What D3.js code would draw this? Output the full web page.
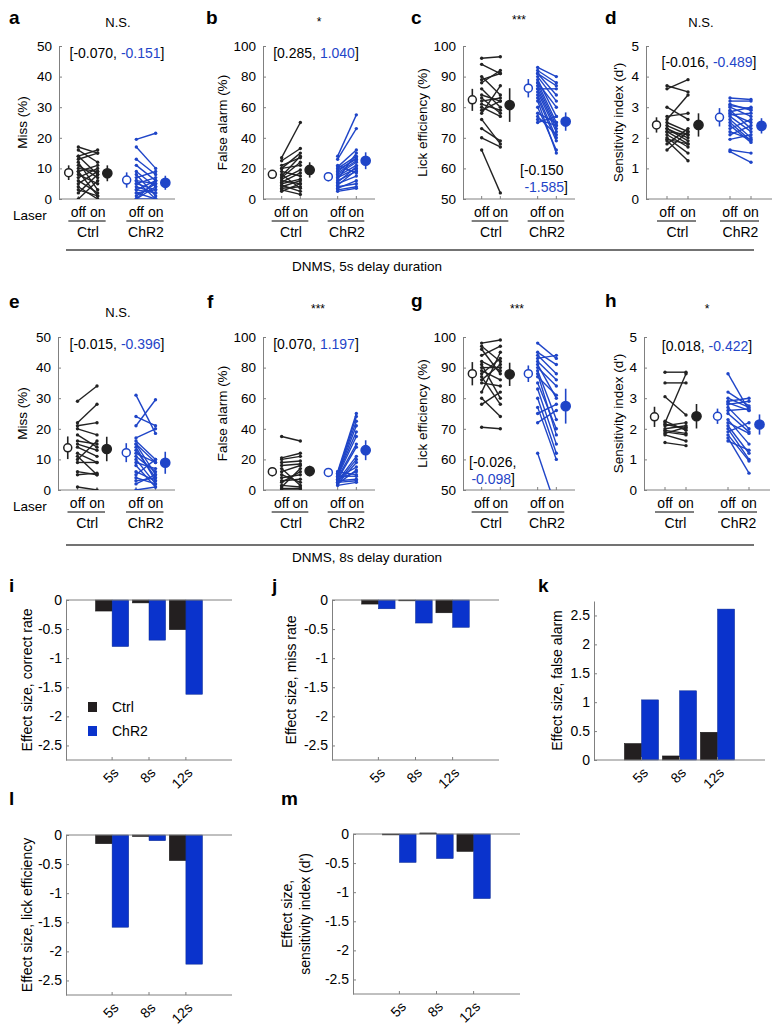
<!DOCTYPE html>
<html><head><meta charset="utf-8">
<script src="https://cdn.jsdelivr.net/npm/d3@7"></script>
<style>
body{margin:0;background:#fff}
text{font-family:'Liberation Sans',Arial,Helvetica,sans-serif}
</style>
</head><body>
<svg id="fig" width="778" height="1026"></svg>
<script>
// ---------------- DATA ----------------
// Panel a: Miss (%), 5s
const aCtrlOff = [17, 16, 14, 14, 12, 10, 9, 9, 8, 7, 6, 5, 4, 3, 2, 0, 11, 13];
const aCtrlOn  = [15, 12, 16, 8, 3, 9, 11, 1, 5, 10, 2, 9, 0, 1, 8, 6, 7, 15];
const aChrOff  = [19.5, 17, 13, 11, 9, 7, 6, 6, 5, 4, 3, 2, 1, 0, 0, 8, 5, 3, 2, 0];
const aChrOn   = [21.5, 10, 8, 6, 4, 9, 5, 0, 7, 2, 6, 3, 5, 0, 4, 1, 3, 2, 0, 6];
const aMeans = [8.6, 8.4, 6.2, 5.3], aSems = [2.4, 2.6, 2.5, 2.3];
// Panel b: False alarm (%), 5s
const bCtrlOff = [27, 25, 22, 20, 18, 15, 14, 12, 10, 9, 8, 7, 6, 5, 20, 16, 11, 13];
const bCtrlOn  = [50, 33, 27, 30, 15, 28, 24, 10, 13, 5, 12, 8, 3, 10, 22, 7, 17, 19];
const bChrOff  = [28, 26, 21, 20, 19, 17, 15, 14, 12, 10, 8, 7, 6, 5, 13, 18, 11, 9, 16, 22];
const bChrOn   = [55, 46, 32, 28, 26, 25, 22, 20, 18, 15, 10, 12, 8, 7, 30, 27, 21, 19, 24, 17];
const bMeans = [16.1, 19, 14.6, 25], bSems = [2.7, 5, 3, 5.5];
// Panel c: Lick efficiency (%), 5s
const cCtrlOff = [96, 94, 89, 88, 86, 84, 83, 82, 80, 79, 78, 76, 73, 70, 66, 90, 81];
const cCtrlOn  = [96.5, 91, 91, 92, 80, 82, 78, 83, 77, 82, 87, 68, 69, 67, 52, 84, 79];
const cChrOff  = [93, 92, 91, 90, 89, 88, 87, 86, 85, 84, 83, 82, 80, 78, 76, 75, 88, 86, 91, 77];
const cChrOn   = [90, 88, 84, 82, 77, 75, 74, 73, 72, 70, 69, 65, 66, 75, 74, 77, 80, 86, 87, 71];
const cMeans = [82.4, 80.7, 86.2, 75.3], cSems = [3.6, 5.5, 3, 3];
// Panel d: Sensitivity index (d'), 5s
const dCtrlOff = [3.7, 3.6, 3.0, 2.7, 2.5, 2.4, 2.3, 2.2, 2.1, 2.0, 1.9, 1.8, 1.6, 2.3, 2.6, 2.2, 1.95];
const dCtrlOn  = [3.5, 3.9, 2.6, 2.8, 2.2, 2.1, 2.0, 1.8, 1.7, 1.5, 1.25, 2.3, 2.2, 1.9, 3.4, 2.1, 1.8];
const dChrOff  = [3.3, 3.2, 3.1, 3.0, 2.9, 2.8, 2.7, 2.6, 2.5, 2.4, 2.3, 2.1, 1.95, 1.6, 1.55, 3.05, 2.75, 2.85, 2.2];
const dChrOn   = [3.25, 3.2, 2.9, 2.7, 2.3, 2.5, 2.2, 2.0, 1.9, 1.85, 2.6, 2.4, 2.1, 1.5, 1.2, 2.95, 2.8, 3.0, 1.95];
const dMeans = [2.42, 2.42, 2.67, 2.39], dSems = [0.25, 0.38, 0.3, 0.25];
// Panel e: Miss (%), 8s
const eCtrlOff = [29, 22, 21, 20, 16, 15, 14, 12, 11, 9, 6, 5, 1, 18, 10];
const eCtrlOn  = [34, 28, 22, 18, 15, 13, 11, 9, 5, 9, 5, 5.5, 0, 14, 16];
const eChrOff  = [31, 24, 21, 17, 16, 15, 14, 13, 12, 11, 10, 9, 8, 6, 5, 4, 3, 2, 0, 15];
const eChrOn   = [18.5, 21, 29.5, 20, 10, 5, 3, 4, 9, 6, 2, 7, 1, 3, 10, 2, 4, 5, 1, 9];
const eMeans = [13.8, 13.4, 12.2, 8.9], eSems = [3.7, 4, 3.1, 3.6];
// Panel f: False alarm (%), 8s
const fCtrlOff = [35, 21, 20, 18, 16, 14, 12, 10, 8, 6, 5, 3, 2, 1, 0];
const fCtrlOn  = [32, 24, 22, 19, 17, 3, 16, 5, 10, 7, 12, 2, 14, 1, 0];
const fChrOff  = [12, 11, 11, 10, 10, 9, 8, 7, 6, 5, 4, 4, 12, 9, 6, 5, 3, 7, 8];
const fChrOn   = [50, 48, 45, 42, 38, 35, 30, 28, 22, 20, 18, 13, 10, 9, 7, 6, 5, 12, 15];
const fMeans = [12, 12.4, 11.5, 26], fSems = [3, 3.4, 1, 6.5];
// Panel g: Lick efficiency (%), 8s
const gCtrlOff = [98, 97, 96, 94, 91, 90, 89, 87, 86, 85, 82, 80, 78, 70.5, 92, 88];
const gCtrlOn  = [99, 92, 88, 97, 80, 90, 86, 78, 91, 84, 95, 74, 82, 70, 89, 93];
const gChrOff  = [98, 95, 93, 92, 91, 90, 89, 88, 85, 83, 80, 77, 75, 72, 62, 94, 87];
const gChrOn   = [93, 91, 94, 86, 80, 84, 73, 68, 70, 65, 62, 60, 78, 76, 44, 88, 81];
const gMeans = [88, 87.8, 88, 77.4], gSems = [3.8, 3.8, 2.7, 5.7];
// Panel h: Sensitivity index (d'), 8s
const hCtrlOff = [3.85, 3.5, 3.05, 2.2, 2.15, 2.0, 1.95, 1.9, 1.8, 1.55, 2.1, 2.25, 1.85];
const hCtrlOn  = [3.85, 3.5, 2.45, 3.8, 2.0, 2.1, 1.85, 1.8, 1.6, 1.45, 2.2, 1.95, 2.05];
const hChrOff  = [3.8, 3.2, 2.9, 2.85, 2.8, 2.7, 2.5, 2.3, 2.1, 2.0, 1.9, 1.8, 1.7, 1.6, 2.6, 2.2, 3.0];
const hChrOn   = [2.6, 2.75, 3.0, 2.6, 2.9, 2.0, 1.9, 1.5, 1.2, 1.0, 2.2, 0.95, 0.55, 1.3, 2.65, 1.85, 2.7];
const hMeans = [2.39, 2.41, 2.41, 2.14], hSems = [0.33, 0.4, 0.25, 0.33];

const sigLabels = ['N.S.', '*', '***', 'N.S.', 'N.S.', '***', '***', '*'];
const groupLabels = ['Ctrl', 'ChR2'];
const laserLabels = ['off', 'on'];

// Effect sizes (bar charts i-m)
const delays = ['5s', '8s', '12s'];
const esCorrectCtrl = [-0.19, -0.05, -0.51], esCorrectChR2 = [-0.80, -0.69, -1.62];
const esMissCtrl    = [-0.070, -0.015, -0.22], esMissChR2 = [-0.151, -0.396, -0.47];
const esFACtrl      = [0.285, 0.070, 0.48], esFAChR2 = [1.040, 1.197, 2.61];
const esLickCtrl    = [-0.150, -0.026, -0.44], esLickChR2 = [-1.585, -0.098, -2.22];
const esDpCtrl      = [-0.016, 0.018, -0.30], esDpChR2 = [-0.489, -0.422, -1.11];

// ---------------- STYLE ----------------
const BLACK = '#222', BLUE = '#1f45c8', BAR_BLUE = '#0a33cc', BAR_BLACK = '#231f20', AXIS = '#808080';
const svg = d3.select('#fig');
const fmt = v => v.toFixed(3);

function styleAxis(g, fs) {
  g.select('.domain').attr('stroke', AXIS);
  g.selectAll('.tick line').attr('stroke', AXIS);
  g.selectAll('.tick text').attr('fill', '#000').style('font-size', fs + 'px')
   .style('font-family', "'Liberation Sans',Arial,sans-serif");
}
function txt(x, y, s, o = {}) {
  const t = svg.append('text').attr('x', x).attr('y', y).text(s)
    .style('font-size', (o.fs || 13) + 'px').attr('fill', o.fill || '#000')
    .attr('text-anchor', o.anchor || 'start');
  if (o.bold) t.style('font-weight', 'bold');
  if (o.rot) t.attr('transform', `rotate(-90,${x},${y})`);
  return t;
}

// ---------------- PAIR PANELS ----------------
let clipId = 0;
function pairPanel(p) {
  const x = d3.scaleLinear().domain([0, 6]).range([p.x0, p.x1]);
  const y = d3.scaleLinear().domain(p.domain).range([p.yBot, p.yTop]);
  const g = svg.append('g');
  const id = 'clip' + (clipId++);
  svg.append('clipPath').attr('id', id).append('rect')
    .attr('x', p.x0).attr('y', p.yTop - 5).attr('width', p.x1 - p.x0).attr('height', p.yBot - p.yTop + 5);

  const ax = g.append('g').attr('transform', `translate(${p.x0},0)`)
    .call(d3.axisLeft(y).tickValues(p.ticks).tickSizeInner(-3).tickSizeOuter(0).tickPadding(7).tickFormat(d => d));
  styleAxis(ax, 13.5);
  g.append('line').attr('x1', p.x0).attr('x2', p.x1).attr('y1', p.yBot).attr('y2', p.yBot).attr('stroke', AXIS);
  [1, 2, 4, 5].forEach(v => g.append('line').attr('x1', x(v)).attr('x2', x(v))
    .attr('y1', p.yBot).attr('y2', p.yBot - 3).attr('stroke', AXIS));

  const lg = g.append('g').attr('clip-path', `url(#${id})`);
  const groups = [[p.ctrlOff, p.ctrlOn, 1, BLACK], [p.chrOff, p.chrOn, 4, BLUE]];
  groups.forEach(([off, on, xo, col]) => {
    off.forEach((v, i) => {
      lg.append('line').attr('x1', x(xo)).attr('x2', x(xo + 1)).attr('y1', y(v)).attr('y2', y(on[i]))
        .attr('stroke', col).attr('stroke-width', 1.4);
      lg.append('circle').attr('cx', x(xo)).attr('cy', y(v)).attr('r', 1.7).attr('fill', col);
      lg.append('circle').attr('cx', x(xo + 1)).attr('cy', y(on[i])).attr('r', 1.7).attr('fill', col);
    });
  });
  // means
  const mpos = [0.5, 2.5, 3.5, 5.5], mcol = [BLACK, BLACK, BLUE, BLUE], mopen = [true, false, true, false];
  p.means.forEach((m, i) => {
    g.append('line').attr('x1', x(mpos[i])).attr('x2', x(mpos[i]))
      .attr('y1', y(m - p.sems[i])).attr('y2', y(m + p.sems[i])).attr('stroke', mcol[i]).attr('stroke-width', 1.6);
    g.append('circle').attr('cx', x(mpos[i])).attr('cy', y(m)).attr('r', mopen[i] ? 4 : 4.6)
      .attr('fill', mopen[i] ? '#fff' : mcol[i]).attr('stroke', mcol[i]).attr('stroke-width', 1.5);
  });
  // x labels
  const yb = p.yBot;
  [[1, 2], [4, 5]].forEach(([o1, o2], gi) => {
    txt(x(o1), yb + 18, laserLabels[0], { anchor: 'middle', fs: 14 });
    txt(x(o2), yb + 18, laserLabels[1], { anchor: 'middle', fs: 14 });
    g.append('line').attr('x1', x(o1) - 10).attr('x2', x(o2) + 8).attr('y1', yb + 22).attr('y2', yb + 22)
      .attr('stroke', '#000').attr('stroke-width', 1);
    txt((x(o1) + x(o2)) / 2, yb + 38, groupLabels[gi], { anchor: 'middle', fs: 14 });
  });
  if (p.laser) txt(13, yb + 21, 'Laser', { fs: 13.5 });
  // labels
  txt(p.labX, (p.yTop + p.yBot) / 2, p.ylabel, { anchor: 'middle', fs: 13.5, rot: true }).attr('dy', '0.35em');
  txt(p.letX, p.letY, p.letter, { fs: 19, bold: true });
  txt(p.titX, p.titY, p.title, { anchor: 'middle', fs: p.title.includes('*') ? 12 : 13 });
  // effect-size annotation
  const a = p.ann;
  if (a.two) {
    const t1 = txt(a.x, a.y, '', { anchor: a.anchor, fs: 14 });
    t1.append('tspan').text('[' + fmt(a.v[0]) + (a.comma ? ',' : ''));
    const t2 = txt(a.x2, a.y + 17, '', { anchor: a.anchor2, fs: 14 });
    t2.append('tspan').attr('fill', BLUE).text(fmt(a.v[1]));
    t2.append('tspan').text(']');
  } else {
    const t = txt(a.x, a.y, '', { anchor: 'middle', fs: 14 });
    t.append('tspan').text('[' + fmt(a.v[0]) + ', ');
    t.append('tspan').attr('fill', BLUE).text(fmt(a.v[1]));
    t.append('tspan').text(']');
  }
}

const Y1T = 46, Y1B = 199, Y2T = 337, Y2B = 490;
const pairs = [
  { letter: 'a', letX: 9, letY: 24, x0: 59, x1: 175, yTop: Y1T, yBot: Y1B, domain: [0, 50], ticks: [0, 10, 20, 30, 40, 50],
    ctrlOff: aCtrlOff, ctrlOn: aCtrlOn, chrOff: aChrOff, chrOn: aChrOn, means: aMeans, sems: aSems, ylabel: 'Miss (%)', labX: 22,
    title: sigLabels[0], titX: 118, titY: 27, laser: true, ann: { v: [esMissCtrl[0], esMissChR2[0]], x: 117, y: 58 } },
  { letter: 'b', letX: 206, letY: 24, x0: 263, x1: 375, yTop: Y1T, yBot: Y1B, domain: [0, 100], ticks: [0, 20, 40, 60, 80, 100],
    ctrlOff: bCtrlOff, ctrlOn: bCtrlOn, chrOff: bChrOff, chrOn: bChrOn, means: bMeans, sems: bSems, ylabel: 'False alarm (%)', labX: 222,
    title: sigLabels[1], titX: 319, titY: 26, ann: { v: [esFACtrl[0], esFAChR2[0]], x: 316, y: 58 } },
  { letter: 'c', letX: 411, letY: 24, x0: 463, x1: 575, yTop: Y1T, yBot: Y1B, domain: [50, 100], ticks: [50, 60, 70, 80, 90, 100],
    ctrlOff: cCtrlOff, ctrlOn: cCtrlOn, chrOff: cChrOff, chrOn: cChrOn, means: cMeans, sems: cSems, ylabel: 'Lick efficiency (%)', labX: 422,
    title: sigLabels[2], titX: 519, titY: 24,
    ann: { two: true, v: [esLickCtrl[0], esLickChR2[0]], x: 520, y: 175, anchor: 'start', x2: 568, anchor2: 'end', comma: false } },
  { letter: 'd', letX: 605, letY: 24, x0: 646, x1: 772, yTop: Y1T, yBot: Y1B, domain: [0, 5], ticks: [0, 1, 2, 3, 4, 5],
    ctrlOff: dCtrlOff, ctrlOn: dCtrlOn, chrOff: dChrOff, chrOn: dChrOn, means: dMeans, sems: dSems, ylabel: "Sensitivity index (d')", labX: 618,
    title: sigLabels[3], titX: 701, titY: 27, ann: { v: [esDpCtrl[0], esDpChR2[0]], x: 709, y: 67 } },
  { letter: 'e', letX: 9, letY: 308, x0: 58, x1: 175, yTop: Y2T, yBot: Y2B, domain: [0, 50], ticks: [0, 10, 20, 30, 40, 50],
    ctrlOff: eCtrlOff, ctrlOn: eCtrlOn, chrOff: eChrOff, chrOn: eChrOn, means: eMeans, sems: eSems, ylabel: 'Miss (%)', labX: 22,
    title: sigLabels[4], titX: 118, titY: 317, laser: true, ann: { v: [esMissCtrl[1], esMissChR2[1]], x: 117, y: 349 } },
  { letter: 'f', letX: 207, letY: 308, x0: 263, x1: 375, yTop: Y2T, yBot: Y2B, domain: [0, 100], ticks: [0, 20, 40, 60, 80, 100],
    ctrlOff: fCtrlOff, ctrlOn: fCtrlOn, chrOff: fChrOff, chrOn: fChrOn, means: fMeans, sems: fSems, ylabel: 'False alarm (%)', labX: 222,
    title: sigLabels[5], titX: 318, titY: 313, ann: { v: [esFACtrl[1], esFAChR2[1]], x: 316, y: 349 } },
  { letter: 'g', letX: 411, letY: 307, x0: 463, x1: 575, yTop: Y2T, yBot: Y2B, domain: [50, 100], ticks: [50, 60, 70, 80, 90, 100],
    ctrlOff: gCtrlOff, ctrlOn: gCtrlOn, chrOff: gChrOff, chrOn: gChrOn, means: gMeans, sems: gSems, ylabel: 'Lick efficiency (%)', labX: 422,
    title: sigLabels[6], titX: 517, titY: 313,
    ann: { two: true, v: [esLickCtrl[1], esLickChR2[1]], x: 469, y: 467, anchor: 'start', x2: 515, anchor2: 'end', comma: true } },
  { letter: 'h', letX: 605, letY: 307, x0: 644, x1: 770, yTop: Y2T, yBot: Y2B, domain: [0, 5], ticks: [0, 1, 2, 3, 4, 5],
    ctrlOff: hCtrlOff, ctrlOn: hCtrlOn, chrOff: hChrOff, chrOn: hChrOn, means: hMeans, sems: hSems, ylabel: "Sensitivity index (d')", labX: 618,
    title: sigLabels[7], titX: 707, titY: 313, ann: { v: [esDpCtrl[1], esDpChR2[1]], x: 707, y: 351 } },
];
pairs.forEach(pairPanel);

// separators
[[250, 'DNMS, 5s delay duration', 271], [545, 'DNMS, 8s delay duration', 562]].forEach(([yy, s, ty]) => {
  svg.append('line').attr('x1', 66).attr('x2', 754).attr('y1', yy).attr('y2', yy).attr('stroke', '#444').attr('stroke-width', 1.3);
  txt(367, ty, s, { anchor: 'middle', fs: 13.5 });
});

// ---------------- BAR PANELS ----------------
function barPanel(p) {
  const x = d3.scaleLinear().domain([-0.25, 4.25]).range([p.x0, p.x1]);
  const y = d3.scaleLinear().domain(p.domain).range([p.yBot, p.yTop]);
  const g = svg.append('g');
  const bw = 0.45;
  p.ctrl.forEach((v, i) => {
    const c = i + 1;
    g.append('rect').attr('x', x(c - bw)).attr('width', x(c) - x(c - bw))
      .attr('y', Math.min(y(0), y(v))).attr('height', Math.abs(y(v) - y(0)))
      .attr('fill', BAR_BLACK).attr('stroke', '#111').attr('stroke-width', 0.5);
    g.append('rect').attr('x', x(c)).attr('width', x(c + bw) - x(c))
      .attr('y', Math.min(y(0), y(p.chr[i]))).attr('height', Math.abs(y(p.chr[i]) - y(0)))
      .attr('fill', BAR_BLUE).attr('stroke', '#0a2a90').attr('stroke-width', 0.5);
  });
  const ax = g.append('g').attr('transform', `translate(${p.x0},0)`)
    .call(d3.axisLeft(y).tickValues(p.ticks).tickSizeInner(-3).tickSizeOuter(0).tickPadding(4).tickFormat(d => String(d)));
  styleAxis(ax, 14);
  g.append('line').attr('x1', p.x0).attr('x2', p.x1).attr('y1', p.yBot).attr('y2', p.yBot).attr('stroke', AXIS);
  if (y(0) !== p.yBot) g.append('line').attr('x1', p.x0).attr('x2', p.x1).attr('y1', y(0)).attr('y2', y(0)).attr('stroke', AXIS);
  delays.forEach((d, i) => {
    const cx = x(i + 1);
    g.append('line').attr('x1', cx).attr('x2', cx).attr('y1', p.yBot).attr('y2', p.yBot - 3).attr('stroke', AXIS);
    svg.append('text').attr('transform', `translate(${cx + 4},${p.yBot + 10}) rotate(-45)`)
      .attr('text-anchor', 'end').attr('dy', '0.35em').style('font-size', '14px').text(d);
  });
  const cy = (p.yTop + p.yBot) / 2;
  if (Array.isArray(p.ylabel)) {
    txt(p.labX, cy, p.ylabel[0], { anchor: 'middle', fs: 14, rot: true });
    txt(p.labX + 18, cy, p.ylabel[1], { anchor: 'middle', fs: 14, rot: true });
  } else {
    txt(p.labX, cy, p.ylabel, { anchor: 'middle', fs: 14, rot: true }).attr('dy', '0.35em');
  }
  txt(p.letX, p.letY, p.letter, { fs: 19, bold: true });
  if (p.legend) {
    [[BAR_BLACK, groupLabels[0]], [BAR_BLUE, groupLabels[1]]].forEach(([col, s], i) => {
      g.append('rect').attr('x', 88).attr('y', 702 + i * 24).attr('width', 9).attr('height', 10).attr('fill', col);
      txt(112, 712 + i * 24, s, { fs: 14 });
    });
  }
}
const negTicks = [0, -0.5, -1, -1.5, -2, -2.5];
const bars = [
  { letter: 'i', letX: 9, letY: 592, x0: 66, x1: 232, yTop: 600, yBot: 760, domain: [-2.75, 0], ticks: negTicks,
    ctrl: esCorrectCtrl, chr: esCorrectChR2, ylabel: 'Effect size, correct rate', labX: 27, legend: true },
  { letter: 'j', letX: 272, letY: 592, x0: 332, x1: 499, yTop: 600, yBot: 760, domain: [-2.75, 0], ticks: negTicks,
    ctrl: esMissCtrl, chr: esMissChR2, ylabel: 'Effect size, miss rate', labX: 291 },
  { letter: 'k', letX: 538, letY: 592, x0: 594, x1: 765, yTop: 601, yBot: 760, domain: [0, 2.75], ticks: [0, 0.5, 1, 1.5, 2, 2.5],
    ctrl: esFACtrl, chr: esFAChR2, ylabel: 'Effect size, false alarm', labX: 557 },
  { letter: 'l', letX: 9, letY: 805, x0: 66, x1: 232, yTop: 835, yBot: 995, domain: [-2.75, 0], ticks: negTicks,
    ctrl: esLickCtrl, chr: esLickChR2, ylabel: 'Effect size, lick efficiency', labX: 27 },
  { letter: 'm', letX: 281, letY: 805, x0: 353, x1: 520, yTop: 834, yBot: 994, domain: [-2.75, 0], ticks: negTicks,
    ctrl: esDpCtrl, chr: esDpChR2, ylabel: ['Effect size,', "sensitivity index (d')"], labX: 292 },
];
bars.forEach(barPanel);
</script>
</body></html>
